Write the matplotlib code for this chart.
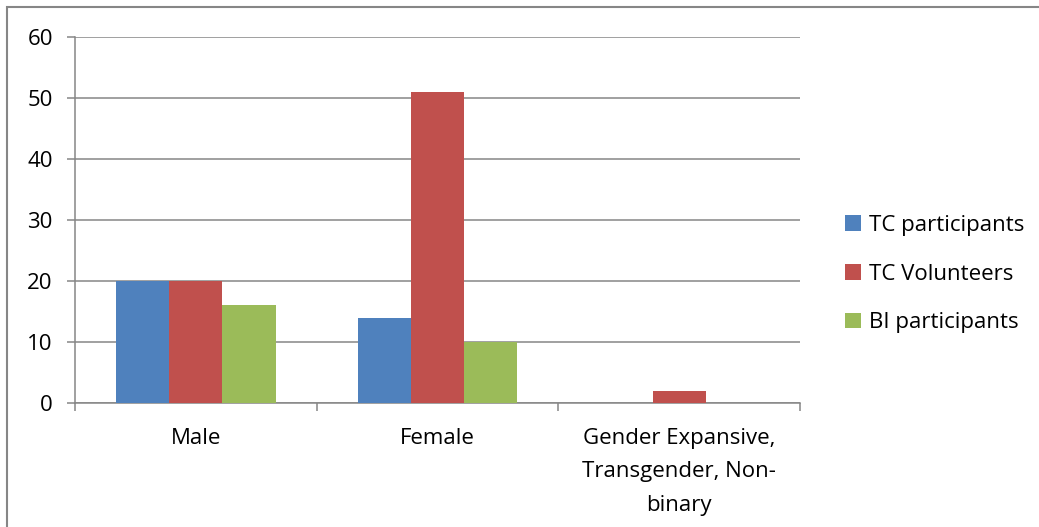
import matplotlib
matplotlib.use("Agg")
import matplotlib.pyplot as plt
import numpy as np

plt.rcParams['font.family'] = ['Open Sans', 'DejaVu Sans']

categories = ["Male", "Female", "Gender Expansive,\nTransgender, Non-\nbinary"]
series_names = ["TC participants", "TC Volunteers", "BI participants"]
tc_participants = [20, 14, 0]
tc_volunteers = [20, 51, 2]
bi_participants = [16, 10, 0]
y_ticks = [0, 10, 20, 30, 40, 50, 60]

colors = ["#4F81BD", "#C0504D", "#9BBB59"]
grid_col = "#868686"
fs = 16

fig = plt.figure(figsize=(10.39, 5.27), dpi=100)
ax = fig.add_axes([75 / 1039, 1 - 403 / 527, 725 / 1039, 366 / 527])

x = np.arange(len(categories))
w = 0.22
for i, (vals, name) in enumerate(zip([tc_participants, tc_volunteers, bi_participants], series_names)):
    ax.bar(x + (i - 1) * w, vals, width=w, color=colors[i], label=name, zorder=3)

ax.set_xlim(-0.5, 2.5)
ax.set_ylim(0, 60)
ax.set_yticks(y_ticks)
ax.tick_params(axis='y', length=6, width=1.1, color=grid_col, pad=10, labelsize=fs)
ax.yaxis.grid(True, color=grid_col, lw=1.1, zorder=0)

# category ticks at boundaries, labels centred
ax.set_xticks([-0.5, 0.5, 1.5, 2.5])
ax.set_xticklabels([])
ax.tick_params(axis='x', length=6, width=1.1, color=grid_col)
ax.set_xticks(x, minor=True)
ax.set_xticklabels(categories, minor=True, fontsize=fs, linespacing=1.78, va='top')
ax.tick_params(axis='x', which='minor', length=0, pad=18)

for s in ['top', 'right']:
    ax.spines[s].set_visible(False)
for s in ['left', 'bottom']:
    ax.spines[s].set_color(grid_col)
    ax.spines[s].set_linewidth(1.1)

leg = fig.legend(loc='center left', bbox_to_anchor=(0.794, 0.48), frameon=False,
                 fontsize=fs, handlelength=0.7, handleheight=0.7, handletextpad=0.4,
                 labelspacing=1.25)

# chart border
fig.patches.append(plt.Rectangle((7 / 1039, -0.05), 1.05, 0.05 + (527 - 7) / 527, fill=False,
                                 edgecolor=grid_col, lw=1.5, transform=fig.transFigure, figure=fig))

fig.savefig("out.png", dpi=100)
